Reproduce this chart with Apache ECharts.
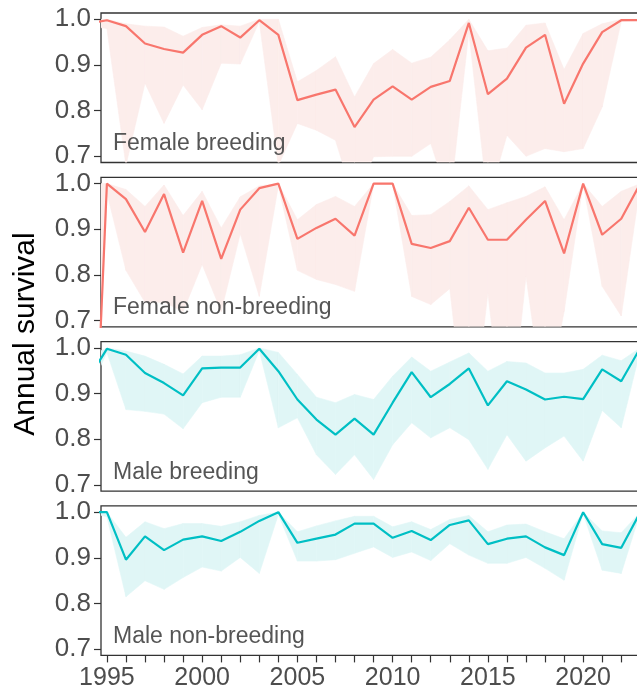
<!DOCTYPE html>
<html><head><meta charset="utf-8">
<script src="https://cdn.jsdelivr.net/npm/echarts@6/dist/echarts.min.js"></script>
<style>html,body{margin:0;padding:0;background:#fff}#c{width:637px;height:693px}</style>
</head><body><div id="c"></div><script>
const years = [1994,1995,1996,1997,1998,1999,2000,2001,2002,2003,2004,2005,2006,2007,2008,2009,2010,2011,2012,2013,2014,2015,2016,2017,2018,2019,2020,2021,2022,2023];
const panelNames = ['Female breeding','Female non-breeding','Male breeding','Male non-breeding'];
const yTicks = [0.7,0.8,0.9,1.0];
const xLabelYears = [1995,2000,2005,2010,2015,2020];
const xTickYears = [1995,1996,1997,1998,1999,2000,2001,2002,2003,2004,2005,2006,2007,2008,2009,2010,2011,2012,2013,2014,2015,2016,2017,2018,2019,2020,2021,2022,2023];

const fbMean = [0.990,0.998,0.985,0.947,0.935,0.927,0.966,0.985,0.960,0.998,0.966,0.823,0.835,0.846,0.764,0.824,0.853,0.824,0.852,0.865,0.992,0.836,0.870,0.938,0.966,0.815,0.903,0.972,0.998,0.998];
const fbHigh = [1.000,1.000,0.990,0.985,0.983,0.963,0.982,0.988,0.985,1.000,1.000,0.863,0.888,0.918,0.830,0.903,0.934,0.904,0.917,0.955,1.000,0.931,0.937,0.987,0.992,0.890,0.969,0.990,1.000,1.000];
const fbLow  = [0.985,0.980,0.680,0.860,0.772,0.856,0.802,0.904,0.902,0.995,0.680,0.772,0.757,0.735,0.600,0.699,0.700,0.700,0.728,0.600,0.972,0.600,0.746,0.700,0.717,0.710,0.717,0.808,0.995,0.998];

const fnbMean = [0.030,1.000,0.966,0.894,0.977,0.849,0.962,0.835,0.943,0.990,1.000,0.879,0.903,0.923,0.886,1.000,1.000,0.868,0.859,0.874,0.947,0.877,0.877,0.921,0.962,0.847,1.000,0.888,0.923,1.000];
const fnbHigh = [1.000,1.000,0.987,0.950,0.997,0.930,0.983,0.903,0.971,0.995,1.000,0.921,0.954,0.972,0.950,1.000,1.000,0.930,0.932,0.961,0.995,0.943,0.958,0.972,0.993,0.921,1.000,0.950,0.983,1.000];
const fnbLow  = [0.000,0.980,0.810,0.740,0.740,0.720,0.823,0.720,0.890,0.753,0.995,0.810,0.790,0.779,0.764,0.998,0.998,0.753,0.735,0.770,0.400,0.761,0.400,0.797,0.500,0.720,0.998,0.775,0.710,0.998];

const mbMean = [0.930,0.998,0.985,0.945,0.923,0.896,0.955,0.957,0.957,0.998,0.949,0.887,0.843,0.810,0.845,0.810,0.880,0.947,0.892,0.921,0.955,0.874,0.927,0.909,0.887,0.893,0.888,0.953,0.927,1.000];
const mbHigh = [0.980,1.000,0.993,0.982,0.964,0.943,0.982,0.982,0.985,1.000,0.990,0.942,0.892,0.880,0.898,0.887,0.938,0.980,0.949,0.969,0.989,0.949,0.970,0.967,0.945,0.945,0.953,0.984,0.972,1.000];
const mbLow  = [0.900,0.990,0.865,0.861,0.855,0.823,0.880,0.892,0.892,0.994,0.825,0.847,0.766,0.723,0.766,0.712,0.788,0.836,0.803,0.825,0.799,0.734,0.810,0.752,0.781,0.807,0.752,0.863,0.825,0.995];

const mnbMean = [1.000,1.000,0.896,0.947,0.917,0.940,0.947,0.937,0.957,0.981,1.000,0.933,0.942,0.951,0.975,0.975,0.944,0.959,0.939,0.972,0.982,0.930,0.942,0.947,0.923,0.906,1.000,0.930,0.922,1.000];
const mnbHigh = [1.000,1.000,0.945,0.979,0.964,0.975,0.975,0.969,0.979,0.993,1.000,0.957,0.970,0.981,0.991,0.991,0.968,0.979,0.962,0.984,0.993,0.957,0.972,0.974,0.957,0.942,1.000,0.959,0.955,1.000];
const mnbLow  = [1.000,0.990,0.815,0.850,0.831,0.857,0.880,0.871,0.901,0.866,0.995,0.893,0.893,0.896,0.910,0.924,0.901,0.913,0.894,0.931,0.906,0.888,0.888,0.901,0.877,0.851,0.997,0.873,0.866,1.000];

const femaleColor = '#F8766D', maleColor = '#00BFC4';
const femaleBand = '#FCEDEB', maleBand = '#E0F6F6';

const panels = [
  {mean: fbMean, lo: fbLow, hi: fbHigh, line: femaleColor, band: femaleBand},
  {mean: fnbMean, lo: fnbLow, hi: fnbHigh, line: femaleColor, band: femaleBand},
  {mean: mbMean, lo: mbLow, hi: mbHigh, line: maleColor, band: maleBand},
  {mean: mnbMean, lo: mnbLow, hi: mnbHigh, line: maleColor, band: maleBand}
];

const FONT = '"Liberation Sans", Arial, sans-serif';
const gridLeft = 101, gridWidth = 545, gridH = 149.5, gridTop0 = 13, gridStep = 164.3;
const grids = [], xAxes = [], yAxes = [], series = [], graphics = [];

panels.forEach((p, i) => {
  const top = gridTop0 + i * gridStep;
  grids.push({left: gridLeft, width: gridWidth, top: top, height: gridH, show: true,
    outerBoundsMode: 'none', containLabel: false,
    borderColor: '#333', borderWidth: 1.3, backgroundColor: 'transparent'});
  const isLast = i === panels.length - 1;
  xAxes.push({type: 'value', gridIndex: i, min: 1994.69, max: 2023.3,
    axisLine: {show: false}, splitLine: {show: false},
    axisTick: {show: isLast, customValues: xTickYears, length: 7, lineStyle: {color: '#333', width: 1.2}},
    axisLabel: {show: isLast, customValues: xLabelYears, fontSize: 25, color: '#4d4d4d', fontFamily: FONT, margin: 10, formatter: v => String(v)}
  });
  yAxes.push({type: 'value', gridIndex: i, min: 0.6864, max: 1.0138,
    axisLine: {show: false}, splitLine: {show: false},
    axisTick: {show: true, customValues: yTicks, length: 7, lineStyle: {color: '#333', width: 1.2}},
    axisLabel: {customValues: yTicks, fontSize: 26, color: '#4d4d4d', fontFamily: FONT, margin: 10, formatter: v => v.toFixed(1)}
  });
  // confidence band: one quadrilateral per year interval
  const segs = [];
  for (let k = 0; k < years.length - 1; k++) {
    segs.push([years[k], p.lo[k], p.hi[k], years[k + 1], p.lo[k + 1], p.hi[k + 1]]);
  }
  const bandColor = p.band;
  series.push({type: 'custom', xAxisIndex: i, yAxisIndex: i, silent: true, clip: true, z: 1,
    encode: {x: 0, y: 1},
    data: segs,
    renderItem: function (params, api) {
      const a = api.coord([api.value(0), api.value(2)]);
      const b = api.coord([api.value(3), api.value(5)]);
      const c = api.coord([api.value(3), api.value(4)]);
      const d = api.coord([api.value(0), api.value(1)]);
      const cs = params.coordSys;
      return {type: 'polygon', shape: {points: [a, b, c, d]},
        style: {fill: bandColor, stroke: bandColor, lineWidth: 0.6},
        clipPath: {type: 'rect', shape: {x: cs.x, y: cs.y, width: cs.width, height: cs.height}}};
    }
  });
  series.push({type: 'line', xAxisIndex: i, yAxisIndex: i, symbol: 'none', silent: true,
    lineStyle: {color: p.line, width: 2.2}, data: years.map((y, k) => [y, p.mean[k]]), z: 3});
  graphics.push({type: 'text', x: 113, y: top + gridH - 12 + 4.8, z: 10,
    style: {text: panelNames[i], font: '23px ' + FONT, fill: '#555555', verticalAlign: 'bottom', align: 'left'}});
});

graphics.push({type: 'text', x: 26, y: 334, rotation: Math.PI / 2, z: 10,
  style: {text: 'Annual survival', font: '30px ' + FONT, fill: '#000', align: 'center', verticalAlign: 'middle'}});

const chart = echarts.init(document.getElementById('c'), null, {renderer: 'canvas'});
chart.setOption({animation: false, backgroundColor: '#fff', grid: grids, xAxis: xAxes, yAxis: yAxes, series: series, graphic: graphics});
</script></body></html>
